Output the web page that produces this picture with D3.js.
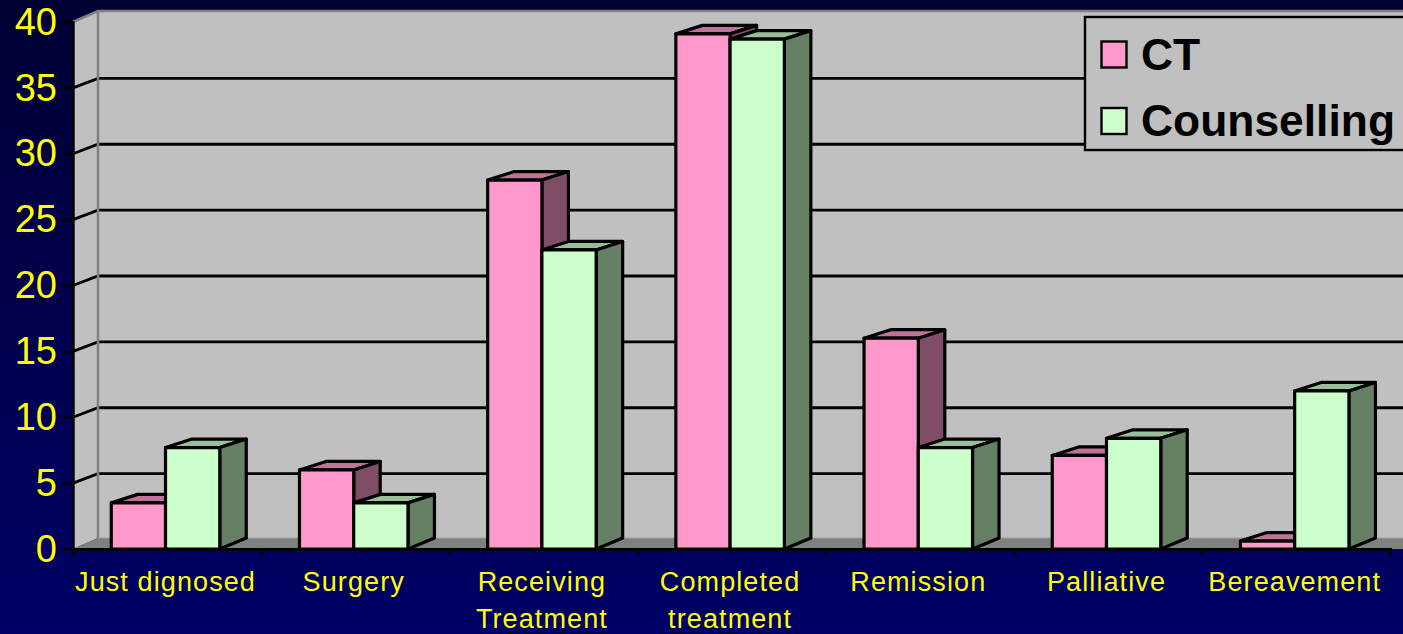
<!DOCTYPE html>
<html>
<head>
<meta charset="utf-8">
<script src="https://cdn.jsdelivr.net/npm/d3@7/dist/d3.min.js"></script>
<style>
  html, body { margin: 0; padding: 0; background: #000066; overflow: hidden; }
  svg { display: block; font-family: "Liberation Sans", Arial, sans-serif; }
</style>
</head>
<body>
<svg id="chart" width="1403" height="634"></svg>
<script>
// Chart data
const categories = [
  ["Just dignosed"],
  ["Surgery"],
  ["Receiving", "Treatment"],
  ["Completed", "treatment"],
  ["Remission"],
  ["Palliative"],
  ["Bereavement"]
];
const seriesNames = ["CT", "Counselling"];
const ctValues = [3.5, 6, 28, 39.1, 16, 7.1, 0.6];
const counsellingValues = [7.7, 3.5, 22.7, 38.7, 7.7, 8.4, 12];
const yTicks = [0, 5, 10, 15, 20, 25, 30, 35, 40];

const seriesValues = [ctValues, counsellingValues];
const faceColours = [
  { front: "#FF99CC", top: "#BF7399", side: "#804D66" },
  { front: "#CCFFCC", top: "#99BF99", side: "#668066" }
];

// Frame geometry
const left = 73, right = 1390, zeroY = 549, topY = 22;
const wallDx = 25, wallDy = 11;   // depth of the back wall
const gridDy = 9.5;               // rise of a gridline across the side wall
const barDx = 26.5, barDy = 8.5;  // depth of each bar's top face
const clusterShift = -1.4;        // clusters sit slightly left of their slots

const svg = d3.select("#chart");
const defs = svg.append("defs");
const bg = defs.append("linearGradient").attr("id", "bg")
  .attr("x1", 0).attr("y1", 0).attr("x2", 0).attr("y2", 1);
bg.append("stop").attr("offset", "0%").attr("stop-color", "#000033");
bg.append("stop").attr("offset", "100%").attr("stop-color", "#000066");
svg.append("rect").attr("width", 1403).attr("height", 634).attr("fill", "url(#bg)");

const y = d3.scaleLinear().domain([0, 40]).range([zeroY, topY]);
const xBand = d3.scaleBand()
  .domain(d3.range(categories.length))
  .range([left + clusterShift, right + clusterShift])
  .paddingInner(0.4235)
  .paddingOuter(0.2108);
const xSeries = d3.scaleBand()
  .domain(d3.range(seriesNames.length))
  .range([0, xBand.bandwidth()]);
const xEdge = d3.scaleLinear().domain([0, categories.length]).range([left, right]);

const poly = pts => pts.map(p => p.join(",")).join(" ");

// Walls and floor
const walls = svg.append("g");
walls.append("polygon")
  .attr("points", poly([[left, y(40)], [left + wallDx, y(40) - wallDy], [1403, y(40) - wallDy], [1403, zeroY - wallDy], [left + wallDx, zeroY - wallDy], [left, zeroY]]))
  .attr("fill", "#C0C0C0");
walls.append("polygon")
  .attr("points", poly([[left, zeroY], [left + wallDx, zeroY - wallDy], [1403, zeroY - wallDy], [1403, zeroY], [left, zeroY]]))
  .attr("fill", "#808080");

// Gridlines across the side wall and back wall
const grid = svg.append("g").attr("fill", "none");
grid.selectAll("polyline").data(yTicks.filter(t => t > 0 && t < 40)).join("polyline")
  .attr("points", d => poly([[left, y(d)], [left + wallDx, y(d) - gridDy], [1403, y(d) - gridDy]]))
  .attr("stroke", "#000").attr("stroke-width", 2.8);
grid.append("polyline")
  .attr("points", poly([[left, y(40)], [left + wallDx, y(40) - wallDy], [1403, y(40) - wallDy]]))
  .attr("stroke", "#808080").attr("stroke-width", 2.6);
grid.append("line")
  .attr("x1", left + wallDx).attr("x2", left + wallDx)
  .attr("y1", y(40) - wallDy).attr("y2", zeroY - wallDy)
  .attr("stroke", "#808080").attr("stroke-width", 2.6);
grid.append("line")
  .attr("x1", left + wallDx).attr("x2", 1403)
  .attr("y1", zeroY - wallDy).attr("y2", zeroY - wallDy)
  .attr("stroke", "#A0A0A0").attr("stroke-width", 1);

// Three-faced bars, category by category
const bars = svg.append("g").attr("stroke", "#000").attr("stroke-width", 3.2).attr("stroke-linejoin", "round");
categories.forEach((_, c) => {
  seriesValues.forEach((vals, s) => {
    const x0 = xBand(c) + xSeries(s), x1 = x0 + xSeries.bandwidth();
    const yT = y(vals[c]), colours = faceColours[s];
    const g = bars.append("g");
    g.append("polygon")
      .attr("points", poly([[x0, yT], [x0 + barDx, yT - barDy], [x1 + barDx, yT - barDy], [x1, yT]]))
      .attr("fill", colours.top);
    g.append("polygon")
      .attr("points", poly([[x1, yT], [x1 + barDx, yT - barDy], [x1 + barDx, zeroY - wallDy], [x1, zeroY]]))
      .attr("fill", colours.side);
    g.append("rect")
      .attr("x", x0).attr("y", yT).attr("width", x1 - x0).attr("height", zeroY - yT)
      .attr("fill", colours.front);
  });
});

// Axes
const yAxis = svg.append("g").attr("transform", `translate(${left},0)`)
  .call(d3.axisLeft(y).tickValues(yTicks).tickSize(10).tickPadding(6).tickFormat(d3.format("d")));
yAxis.selectAll(".tick line").attr("stroke", "#000").attr("stroke-width", 2.4);
yAxis.select(".domain").attr("stroke", "#000").attr("stroke-width", 2.4);
yAxis.selectAll("text").attr("fill", "#FFFF00")
  .style("font-size", "38px").style("font-family", "'Liberation Sans', Arial, sans-serif");

const xAxis = svg.append("g").attr("transform", `translate(0,${zeroY})`)
  .call(d3.axisBottom(xEdge).tickValues(d3.range(categories.length + 1)).tickSize(7).tickFormat(""));
xAxis.selectAll(".tick line").attr("stroke", "#000").attr("stroke-width", 2.4);
xAxis.select(".domain").attr("stroke", "#000").attr("stroke-width", 3);

// Category labels, wrapped over two lines where needed
const labels = svg.append("g").attr("fill", "#FFFF00").attr("text-anchor", "middle")
  .style("font-size", "27px").style("letter-spacing", "1.1px");
labels.selectAll("text").data(categories).join("text")
  .attr("y", 591)
  .each(function (lines, i) {
    d3.select(this).selectAll("tspan").data(lines).join("tspan")
      .attr("x", xBand(i) + xBand.bandwidth() / 2)
      .attr("y", (_, k) => 591 + k * 37)
      .text(d => d);
  });

// Legend
const legend = svg.append("g");
legend.append("rect")
  .attr("x", 1085).attr("y", 17).attr("width", 330).attr("height", 133)
  .attr("fill", "#C0C0C0").attr("stroke", "#000").attr("stroke-width", 2.4);
const rows = legend.selectAll("g").data(seriesNames).join("g")
  .attr("transform", (_, i) => `translate(0,${i * 66.5})`);
rows.append("rect")
  .attr("x", 1101.5).attr("y", 41.5).attr("width", 25).attr("height", 26)
  .attr("fill", (_, i) => faceColours[i].front)
  .attr("stroke", "#000").attr("stroke-width", 2.4);
rows.append("text")
  .attr("x", 1141).attr("y", 69.5)
  .attr("fill", "#000").attr("font-weight", "bold").style("font-size", "44.4px")
  .text(d => d);
</script>
</body>
</html>
